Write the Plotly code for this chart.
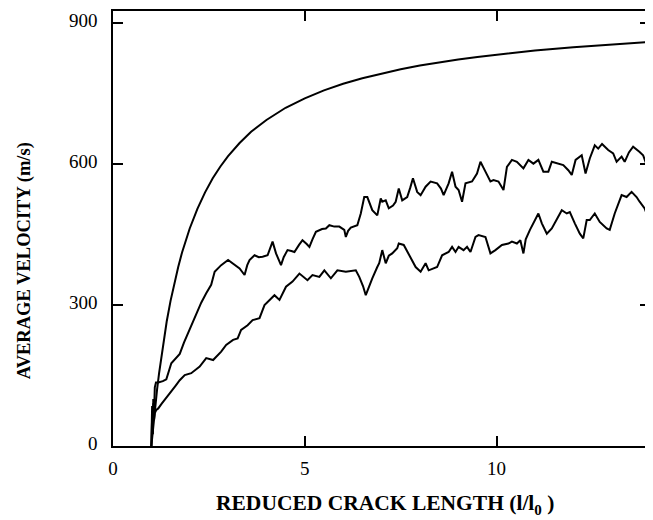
import plotly.graph_objects as go

# Upper smooth curve (theoretical)
top_x = [1.0, 1.05, 1.1, 1.15, 1.2, 1.3, 1.4, 1.5, 1.6, 1.7, 1.8, 1.9, 2.0, 2.2, 2.4, 2.6, 2.8, 3.0,
         3.3, 3.6, 4.0, 4.5, 5.0, 5.5, 6.0, 6.5, 7.0, 7.5, 8.0, 8.5, 9.0, 9.5, 10.0, 11.0, 12.0, 13.0, 14.0]
top_y = [0, 44, 84, 121, 154, 214, 265, 309, 347, 381, 412, 439, 463, 505, 540, 570, 595, 617,
         645, 669, 694, 720, 740, 757, 771, 783, 793, 802, 810, 817, 823, 828, 833, 842, 849, 855, 860]

# Middle noisy curve
mid_x = [1.0, 1.02, 1.04, 1.05, 1.07, 1.09, 1.12, 1.18, 1.30, 1.39, 1.52, 1.62, 1.74, 1.85, 1.96, 2.07,
         2.17, 2.30, 2.43, 2.56, 2.65, 2.82, 3.0, 3.1, 3.21, 3.3, 3.43, 3.5, 3.56, 3.69, 3.8, 3.9, 4.03,
         4.1, 4.16, 4.25, 4.38, 4.45, 4.55, 4.65, 4.73, 4.85, 4.94, 5.05, 5.12, 5.2, 5.29, 5.45, 5.55,
         5.64, 5.77, 5.9, 6.03, 6.07, 6.13, 6.2, 6.37, 6.46, 6.55, 6.63, 6.7, 6.76, 6.89, 6.98, 7.02,
         7.11, 7.19, 7.3, 7.37, 7.45, 7.54, 7.67, 7.75, 7.82, 7.93, 8.02, 8.15, 8.28, 8.45, 8.55, 8.62,
         8.75, 8.84, 8.93, 9.01, 9.1, 9.19, 9.36, 9.49, 9.58, 9.71, 9.84, 9.92, 10.05, 10.18, 10.27,
         10.4, 10.53, 10.7, 10.83, 10.96, 11.09, 11.22, 11.35, 11.44, 11.61, 11.74, 11.87, 11.96,
         12.06, 12.22, 12.32, 12.43, 12.56, 12.65, 12.75, 12.91, 13.04, 13.13, 13.26, 13.34, 13.45,
         13.56, 13.73, 13.82, 13.9, 14.0]
mid_y = [0, 60, 25, 100, 70, 125, 135, 135, 138, 142, 176, 185, 196, 220, 240, 262,
         282, 305, 325, 343, 371, 385, 396, 390, 385, 378, 364, 385, 396, 406, 402, 403, 406,
         420, 435, 410, 385, 402, 417, 415, 413, 428, 438, 430, 424, 440, 456, 462, 463,
         470, 467, 467, 460, 445, 458, 465, 470, 495, 530, 530, 515, 502, 491, 527, 520,
         523, 506, 512, 520, 548, 523, 530, 550, 570, 541, 534, 552, 563, 559, 548, 534,
         559, 584, 552, 545, 520, 559, 563, 580, 605, 584, 563, 566, 563, 545, 594,
         609, 605, 591, 609, 601, 609, 584, 584, 605, 601, 598, 587, 577,
         609, 619, 580, 612, 640, 633, 643, 630, 623, 605, 616, 605, 625,
         637, 626, 619, 601, 600]

# Lower noisy curve
low_x = [1.0, 1.02, 1.04, 1.05, 1.07, 1.09, 1.13, 1.18, 1.27, 1.35, 1.52, 1.63, 1.74, 1.87, 2.04, 2.15,
         2.26, 2.43, 2.61, 2.82, 2.95, 3.13, 3.25, 3.34, 3.51, 3.64, 3.82, 3.95, 4.08, 4.21, 4.34, 4.51,
         4.68, 4.86, 5.07, 5.2, 5.38, 5.51, 5.68, 5.85, 6.07, 6.33, 6.42, 6.52, 6.59, 6.67, 6.76, 6.89,
         6.94, 7.02, 7.11, 7.19, 7.28, 7.41, 7.45, 7.58, 7.76, 7.89, 8.02, 8.15, 8.23, 8.35, 8.45, 8.58,
         8.75, 8.84, 8.93, 9.01, 9.14, 9.23, 9.32, 9.45, 9.53, 9.71, 9.84, 9.97, 10.14, 10.31, 10.4,
         10.53, 10.62, 10.7, 10.76, 10.87, 11.0, 11.09, 11.18, 11.31, 11.44, 11.57, 11.7, 11.83, 11.91,
         12.04, 12.17, 12.26, 12.35, 12.43, 12.56, 12.69, 12.87, 12.95, 13.08, 13.26, 13.39, 13.52,
         13.65, 13.73, 13.86, 13.94, 14.0]
low_y = [0, 85, 35, 91, 55, 70, 77, 80, 90, 98, 116, 128, 140, 151, 155, 162,
         169, 187, 183, 201, 215, 226, 229, 247, 257, 268, 272, 300, 311, 321, 311, 339,
         350, 367, 353, 364, 360, 374, 357, 374, 371, 374, 360, 340, 321, 340, 357, 381,
         389, 417, 389, 405, 410, 421, 431, 428, 399, 381, 371, 389, 374, 378, 381, 406,
         413, 424, 413, 424, 417, 424, 413, 445, 449, 445, 410, 417, 428, 431, 435,
         431, 438, 410, 440, 460, 481, 495, 474, 452, 463, 481, 502, 495, 498,
         474, 452, 442, 481, 481, 495, 477, 463, 460, 495, 534, 530, 541,
         530, 520, 506, 488, 480]

x_ticks = [0, 5, 10]
y_ticks = [0, 300, 600, 900]

line_style = dict(color="black", width=2)

fig = go.Figure()
for xs, ys in [(top_x, top_y), (mid_x, mid_y), (low_x, low_y)]:
    fig.add_trace(go.Scatter(x=xs, y=ys, mode="lines", line=line_style,
                             showlegend=False, hoverinfo="skip"))

serif = "Liberation Serif, Times New Roman, serif"
axis_common = dict(showline=True, linecolor="black", linewidth=1.5, mirror="ticks",
                   ticks="inside", ticklen=10, tickwidth=1.5, tickcolor="black",
                   showgrid=False, zeroline=False,
                   tickfont=dict(family=serif, size=19, color="black"))

fig.update_xaxes(range=[0, 14], tickvals=x_ticks, ticktext=[str(v) for v in x_ticks],
                 ticklabelstandoff=4, **axis_common)
fig.update_yaxes(range=[0, 926], tickvals=y_ticks, ticktext=[str(v) for v in y_ticks],
                 ticklabelstandoff=10, ticklabelshift=-3, **axis_common)

fig.add_annotation(text="<b>REDUCED CRACK LENGTH (l/l<sub>0</sub> )</b>",
                   xref="paper", yref="paper", x=0.506, y=-0.135,
                   xanchor="center", yanchor="middle", showarrow=False,
                   font=dict(family=serif, size=21.5, color="black"))
fig.add_annotation(text="<b>AVERAGE VELOCITY (m/s)</b>",
                   xref="paper", yref="paper", x=-0.1654, y=0.425,
                   xanchor="center", yanchor="middle", textangle=-90, showarrow=False,
                   font=dict(family=serif, size=18.5, color="black"))

# page body has an 8px default margin, so the figure is sized/offset accordingly
fig.update_layout(width=645, height=512,
                  margin=dict(l=105, r=2, t=1, b=74),
                  paper_bgcolor="white", plot_bgcolor="white")

fig.write_html("out.html")
